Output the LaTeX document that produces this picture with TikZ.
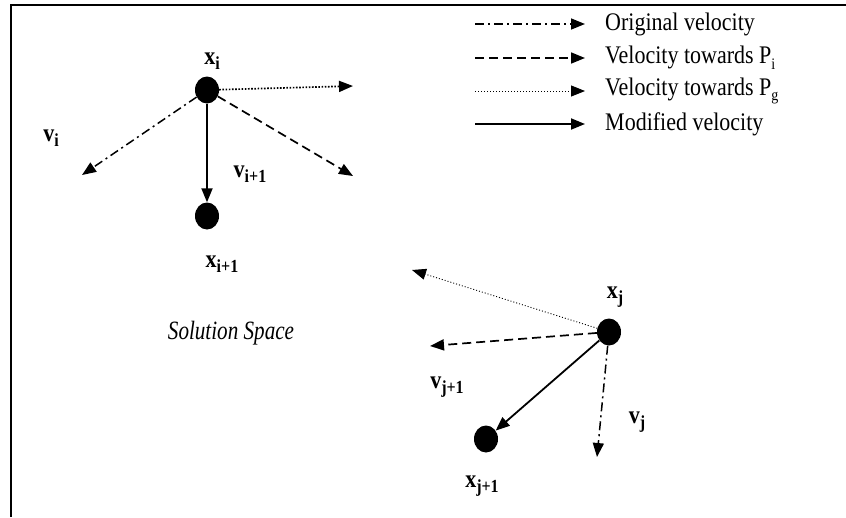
\documentclass[tikz,border=0pt]{standalone}
\usepackage{fontspec}
\setmainfont{Liberation Serif}
\usetikzlibrary{arrows.meta,positioning,shapes.geometric}

\newcommand{\tall}[1]{\scalebox{1}[1.15]{#1}}
\newcommand{\bsub}[2]{\tall{\textbf{#1}\raisebox{-0.45ex}{\fontsize{16}{16}\selectfont\textbf{#2}}}}
\newcommand{\lsub}[1]{\raisebox{-0.5ex}{\fontsize{14}{14}\selectfont #1}}

\begin{document}
\begin{tikzpicture}[x=1pt,y=-1pt,
    particle/.style={ellipse,fill=black,minimum width=24pt,minimum height=27pt,inner sep=0pt},
    vlabel/.style={font=\fontsize{22}{26}\selectfont},
    tip/.style={-{Triangle[length=14pt,width=11pt]}},
    origv/.style={tip,line width=1.5pt,dash pattern=on 9pt off 4pt on 2pt off 4pt},
    bestv/.style={tip,line width=1.7pt,dash pattern=on 9pt off 5pt},
    globv/.style={tip,line width=1.7pt,dash pattern=on 1.6pt off 1.6pt},
    finev/.style={tip,line width=0.9pt,dash pattern=on 1pt off 2pt},
    modv/.style={tip,line width=1.8pt},
    legtext/.style={anchor=west,inner xsep=20pt,font=\fontsize{22}{26}\selectfont}]
  \useasboundingbox (0,0) rectangle (846,517);
  \draw[line width=2.5pt] (11,517) -- (11,5) -- (846,5);

  % legend
  \coordinate (lg1a) at (475,24);
  \coordinate (lg2a) at (475,58);
  \coordinate (lg3a) at (475,91);
  \coordinate (lg4a) at (475,124);
  \node[legtext] (lg1) at (585,24) {\tall{Original velocity}};
  \node[legtext] (lg2) at (585,58) {\tall{Velocity towards P\lsub{i}}};
  \node[legtext] (lg3) at (585,91) {\tall{Velocity towards P\lsub{g}}};
  \node[legtext] (lg4) at (585,124) {\tall{Modified velocity}};
  \draw[origv] (lg1a) -- (lg1.west);
  \draw[bestv] (lg2a) -- (lg2.west);
  \draw[finev] (lg3a) -- (lg3.west);
  \draw[modv]  (lg4a) -- (lg4.west);

  % particle i
  \node[particle] (xi) at (207,90) {};
  \node[particle] (xip) at (207,216) {};
  \coordinate (vi) at (82,175);
  \coordinate (pgi) at (353,86);
  \coordinate (pii) at (353,176);
  \draw[globv] (xi) -- (pgi);
  \draw[origv] (xi) -- (vi);
  \draw[bestv] (xi) -- (pii);
  \draw[modv] (xi) -- (xip);
  \node[vlabel] (lxi) at (212,61) {\bsub{x}{i}};
  \node[vlabel] (lvi) at (51,138) {\bsub{v}{i}};
  \node[vlabel] (lvip) at (250,174) {\bsub{v}{i+1}};
  \node[vlabel] (lxip) at (222,264) {\bsub{x}{i+1}};

  % particle j
  \node[particle] (xj) at (609,332) {};
  \node[particle] (xjp) at (486,439) {};
  \coordinate (pgj) at (412,270);
  \coordinate (pij) at (430,346);
  \coordinate (vj) at (597,457);
  \draw[finev] (xj) -- (pgj);
  \draw[bestv] (xj) -- (pij);
  \draw[origv] (xj) -- (vj);
  \draw[modv] (xj) -- (xjp);
  \node[vlabel] (lxj) at (615,297) {\bsub{x}{j}};
  \node[vlabel] (lvjp) at (447,387) {\bsub{v}{j+1}};
  \node[vlabel] (lvj) at (637,422) {\bsub{v}{j}};
  \node[vlabel] (lxjp) at (482,486) {\bsub{x}{j+1}};

  \node (space) at (231,333) {\scalebox{0.88}[1.1]{\itshape\fontsize{24}{28}\selectfont Solution Space}};
\end{tikzpicture}
\end{document}
